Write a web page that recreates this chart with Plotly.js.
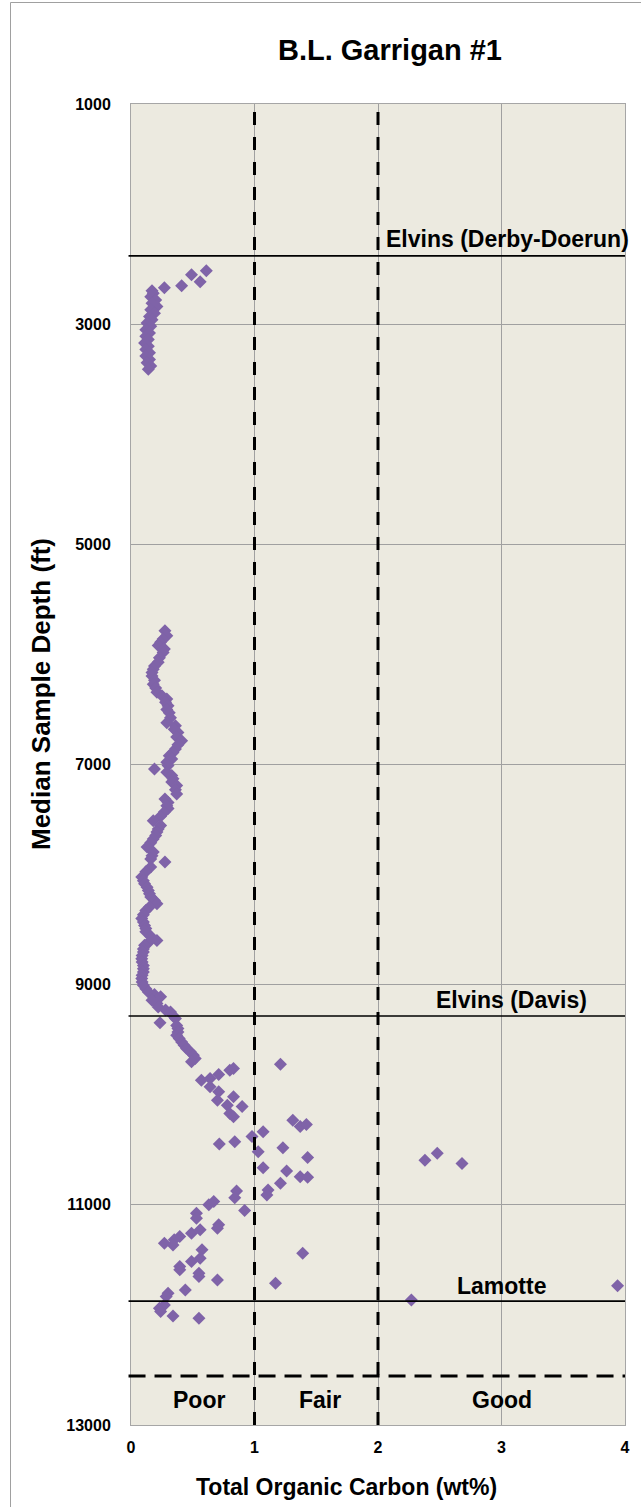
<!DOCTYPE html>
<html>
<head>
<meta charset="utf-8">
<script src="https://cdn.plot.ly/plotly-3.0.1.min.js"></script>
<style>
  html, body { margin: 0; padding: 0; background: #ffffff; }
  #chart { width: 641px; height: 1507px; }
</style>
</head>
<body>
<div id="chart"></div>
<script>
// ---- Data ----
const tocValues = [
  0.61,0.49,0.56,0.41,0.27,0.17,
  0.18,0.16,0.20,0.17,0.21,0.16,0.19,0.15,0.17,0.13,0.16,0.12,0.15,0.12,0.14,0.11,0.14,0.12,0.15,0.12,0.15,0.13,0.16,0.14,
  0.275,0.29,0.26,0.24,0.22,0.27,0.26,0.23,0.22,0.19,0.18,0.17,0.17,0.19,0.18,0.20,0.21,0.25,0.29,0.28,
  0.30,0.29,0.31,0.32,0.29,0.36,0.35,0.38,0.37,0.41,0.38,0.36,0.34,0.31,0.33,0.29,0.19,0.30,0.29,0.33,
  0.34,0.33,0.37,0.36,0.37,0.275,0.30,0.29,0.30,0.27,0.24,0.18,0.24,0.22,0.21,0.20,0.18,0.16,0.13,0.18,
  0.17,0.16,0.275,0.16,0.12,0.087,0.10,0.11,0.13,0.14,0.15,0.16,0.19,0.21,0.15,0.12,0.10,0.087,0.10,0.11,
  0.12,0.12,0.16,0.21,0.14,0.11,0.10,0.10,0.09,0.087,0.09,0.10,0.10,0.10,0.09,0.087,0.09,0.10,0.12,0.14,
  0.19,0.24,0.17,0.21,0.22,0.28,0.32,0.34,0.36,0.235,0.37,0.38,0.38,0.37,0.39,0.41,0.43,0.45,0.48,0.505,
  0.52,0.49,
  0.83,1.21,0.57,0.64,0.71,0.80,0.64,0.71,0.83,0.70,0.78,0.90,0.80,0.83,1.31,1.37,1.42,0.98,1.07,0.715,
  0.84,1.03,1.23,1.43,1.07,1.26,1.37,1.43,1.21,1.11,1.10,0.855,0.84,2.38,2.48,2.68,
  0.92,0.63,0.67,0.53,0.53,0.71,0.70,0.49,0.56,0.395,0.35,0.34,0.27,1.39,0.575,0.56,0.49,0.395,0.395,0.55,
  0.55,0.70,1.17,3.94,0.44,0.30,0.285,2.27,0.23,0.27,0.24,0.34,0.55
];
const depthValues = [
  2515,2551,2615,2651,2669,2696,
  2720,2750,2780,2810,2840,2870,2900,2930,2960,2990,3020,3050,3080,3110,3140,3170,3200,3230,3260,3290,3320,3350,3380,3410,
  5786,5830,5860,5890,5920,5950,5982,6030,6072,6105,6134,6165,6197,6235,6270,6305,6343,6375,6405,6435,
  6467,6500,6530,6575,6620,6648,6680,6710,6750,6784,6820,6860,6890,6920,6950,6980,7040,7010,7070,7100,
  7130,7160,7190,7230,7267,7313,7345,7374,7400,7432,7470,7510,7555,7585,7614,7645,7676,7710,7750,7795,
  7830,7858,7886,7932,7975,8023,8055,8084,8115,8144,8175,8204,8235,8265,8295,8326,8365,8400,8430,8462,
  8490,8520,8560,8598,8620,8643,8675,8704,8735,8764,8795,8825,8855,8885,8915,8945,8975,9006,9036,9066,
  9090,9110,9142,9170,9202,9230,9248,9280,9308,9345,9370,9399,9430,9460,9490,9520,9550,9580,9610,9641,
  9670,9701,
  9762,9722,9868,9852,9816,9777,9928,9973,10019,10049,10095,10107,10170,10200,10231,10289,10270,10380,10336,10448,
  10426,10518,10482,10570,10663,10693,10744,10750,10805,10866,10911,10875,10935,10595,10532,10625,
  11052,11000,10970,11076,11121,11182,11212,11258,11227,11288,11318,11364,11348,11440,11409,11485,11515,11560,11590,11621,
  11651,11682,11712,11736,11773,11803,11833,11864,11940,11909,11970,12009,12030
];

const formationNames = ["Elvins (Derby-Doerun)", "Elvins (Davis)", "Lamotte"];
const formationTops = [2380, 9285, 11875];
const formationLabelX = [3.05, 3.08, 3.0];
const formationLabelDepth = [2224, 9136, 11733];

const richnessCutoffs = [1, 2];
const richnessLabels = ["Poor", "Fair", "Good"];
const richnessLabelX = [0.55, 1.53, 3.0];
const richnessDepth = 12555;
const richnessLabelDepth = 12775;

const yTicks = [1000, 3000, 5000, 7000, 9000, 11000, 13000];
const xTicks = [0, 1, 2, 3, 4];

const chartTitle = "B.L. Garrigan #1";
const xTitle = "Total Organic Carbon (wt%)";
const yTitle = "Median Sample Depth (ft)";

// ---- Build figure ----
const FONT = "Liberation Sans, Arial, sans-serif";
const W = 641, H = 1507, ML = 131, MR = 16, MT = 104, MB = 82;
const PW = W - ML - MR, PH = H - MT - MB;
const px2paperX = p => (p - ML) / PW;
const px2paperY = p => (H - MB - p) / PH;

const trace = {
  type: "scatter",
  mode: "markers",
  x: tocValues,
  y: depthValues,
  cliponaxis: false,
  marker: { symbol: "diamond", size: 10, color: "#7F63A8", line: { width: 0 } },
  hoverinfo: "x+y",
  showlegend: false
};

const shapes = [];
// figure border
shapes.push({
  type: "rect", xref: "paper", yref: "paper",
  x0: px2paperX(10.5), x1: px2paperX(660), y0: px2paperY(1520), y1: px2paperY(2.5),
  line: { color: "#A0A0A0", width: 1 }, fillcolor: "rgba(0,0,0,0)", layer: "below"
});
formationTops.forEach(d => {
  shapes.push({
    type: "line", xref: "paper", yref: "y",
    x0: -0.005, x1: 1.0, y0: d, y1: d,
    line: { color: "#000000", width: 1.6 }
  });
});
richnessCutoffs.forEach(c => {
  shapes.push({
    type: "line", xref: "x", yref: "paper",
    x0: c, x1: c, y0: 0, y1: 1,
    line: { color: "#000000", width: 3, dash: "13px,12px" }
  });
});
shapes.push({
  type: "line", xref: "paper", yref: "y",
  x0: -0.005, x1: 1.0, y0: richnessDepth, y1: richnessDepth,
  line: { color: "#000000", width: 3, dash: "17px,9px" }
});

const annotations = [];
formationNames.forEach((n, i) => {
  annotations.push({
    text: n, x: formationLabelX[i], y: formationLabelDepth[i],
    xref: "x", yref: "y", showarrow: false,
    xanchor: "center", yanchor: "middle",
    font: { family: FONT, size: 23, color: "#000000", weight: "bold" }
  });
});
richnessLabels.forEach((n, i) => {
  annotations.push({
    text: n, x: richnessLabelX[i], y: richnessLabelDepth,
    xref: "x", yref: "y", showarrow: false,
    xanchor: "center", yanchor: "middle",
    font: { family: FONT, size: 23, color: "#000000", weight: "bold" }
  });
});
// axis titles as annotations (offset like the reference)
annotations.push({
  text: "<b>" + xTitle + "</b>", xref: "paper", yref: "paper",
  x: px2paperX(346), y: px2paperY(1487), showarrow: false,
  xanchor: "center", yanchor: "middle",
  font: { family: FONT, size: 23, color: "#000000" }
});
annotations.push({
  text: "<b>" + yTitle + "</b>", xref: "paper", yref: "paper",
  x: px2paperX(41), y: px2paperY(694), showarrow: false, textangle: -90,
  xanchor: "center", yanchor: "middle",
  font: { family: FONT, size: 26, color: "#000000" }
});

const layout = {
  width: W, height: H,
  margin: { l: ML, r: MR, t: MT, b: MB },
  paper_bgcolor: "#FFFFFF",
  plot_bgcolor: "#ECEAE0",
  title: {
    text: "<b>" + chartTitle + "</b>",
    font: { family: FONT, size: 29, color: "#000000" },
    xref: "paper", x: px2paperX(390), xanchor: "center",
    yref: "container", y: 1 - 50 / H, yanchor: "middle"
  },
  xaxis: {
    range: [0, 4],
    tickvals: xTicks,
    ticktext: xTicks.map(String),
    showgrid: true, gridcolor: "#A0A0A0", gridwidth: 1,
    zeroline: false,
    showline: true, linecolor: "#A6A6A6", linewidth: 1, mirror: true,
    ticks: "", ticklabelstandoff: 8,
    tickfont: { family: FONT, size: 16, color: "#000000", weight: "bold" }
  },
  yaxis: {
    range: [13000, 1000],
    tickvals: yTicks,
    ticktext: yTicks.map(String),
    showgrid: true, gridcolor: "#A0A0A0", gridwidth: 1,
    zeroline: false,
    showline: true, linecolor: "#A6A6A6", linewidth: 1, mirror: true,
    ticks: "", ticklabelstandoff: 16,
    tickfont: { family: FONT, size: 16, color: "#000000", weight: "bold" }
  },
  shapes: shapes,
  annotations: annotations,
  showlegend: false
};

Plotly.newPlot("chart", [trace], layout, { staticPlot: true, displayModeBar: false });
</script>
</body>
</html>
